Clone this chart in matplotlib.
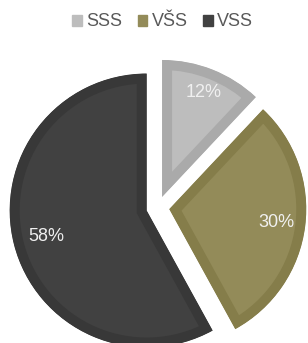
import matplotlib
matplotlib.use('Agg')
import matplotlib.pyplot as plt
import numpy as np

# data
labels = ['SSS', 'VŠS', 'VSS']
shares = [12, 30, 58]
fill_colors = ['#bdbdbd', '#938b59', '#414141']
edge_colors = ['#aaaaaa', '#857d4a', '#383838']

plt.rcParams['font.family'] = ['Liberation Sans', 'DejaVu Sans']

fig = plt.figure(figsize=(3.08, 3.43), dpi=100)
ax = fig.add_axes([0, 0, 1, 1])

wedges, texts, autotexts = ax.pie(
    shares, colors=fill_colors, startangle=90, counterclock=False,
    explode=[0.084] * len(shares), radius=1,
    autopct='%d%%', pctdistance=0.8,
    textprops=dict(color='#f0f0f0', fontsize=13))

# inner border: thick edge clipped to the wedge itself
for w, ec in zip(wedges, edge_colors):
    w.set_edgecolor(ec)
    w.set_linewidth(14.4)
    w.set_clip_on(True)
    w.set_clip_path(w)

# per-wedge label distance from the exploded apex
label_dist = [0.82, 0.79, 0.76]
for w, t, d in zip(wedges, autotexts, label_dist):
    ang = np.deg2rad((w.theta1 + w.theta2) / 2)
    cx, cy = w.center
    t.set_position((cx + d * np.cos(ang), cy + d * np.sin(ang)))

ax.set_xlim(-1.152, 1.096)
ax.set_ylim(-0.988, 1.516)
ax.set_aspect('auto')
ax.axis('off')

handles = [plt.Rectangle((0, 0), 1, 1, color=c) for c in fill_colors]
fig.legend(handles, labels, loc='center', bbox_to_anchor=(162.5 / 308, 1 - 22 / 343),
           ncol=3, frameon=False, fontsize=13, labelcolor='#595959',
           handlelength=0.55, handleheight=0.55, handletextpad=0.22,
           columnspacing=0.85, borderpad=0, borderaxespad=0)

fig.savefig('out.png', dpi=100)
